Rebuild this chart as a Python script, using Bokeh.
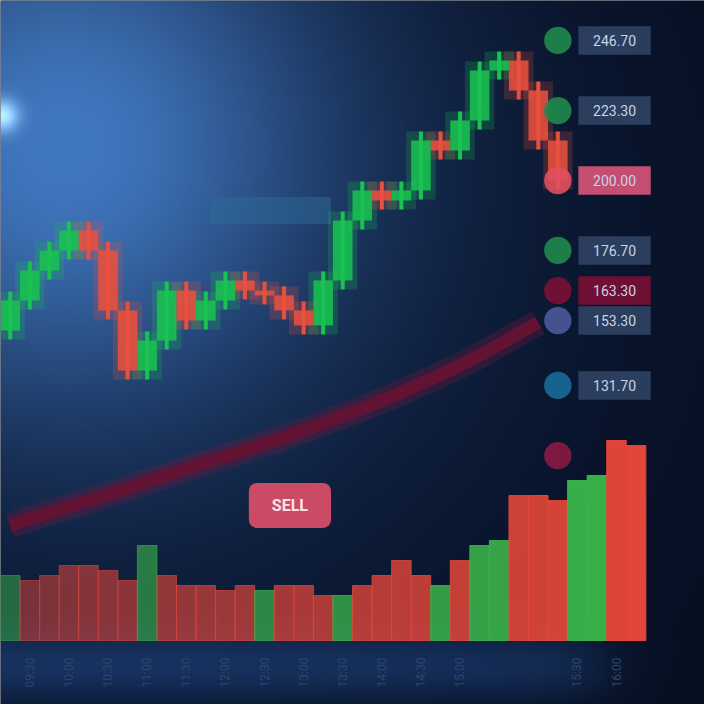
import numpy as np
from bokeh.plotting import figure
from bokeh.models import Range1d, ColumnDataSource
from bokeh.core.properties import value
from bokeh.embed import file_html
from bokeh.resources import INLINE

# ---------------- data ----------------
closes = [160.0, 170.0, 176.7, 183.3, 176.7, 156.7, 136.7, 146.7, 163.3, 153.3,
          160.0, 166.7, 163.3, 161.7, 156.7, 151.7, 166.7, 186.7, 196.7, 193.3,
          196.7, 213.3, 210.0, 220.0, 236.7, 240.0, 230.0, 213.3, 200.0]
first_open = 150.0
moving_avg = [85.0, 87.3, 89.3, 91.3, 93.3, 95.3, 97.3, 99.7, 101.7, 104.0,
              106.0, 108.0, 110.0, 112.3, 114.3, 116.7, 119.0, 121.7, 124.0, 126.7,
              129.3, 132.3, 135.3, 138.3, 141.7, 145.3, 149.0, 152.7]
volumes = [65, 60, 65, 75, 75, 70, 60, 95, 65, 55, 55, 50, 55, 50, 55, 55, 45,
           45, 55, 65, 80, 65, 55, 80, 95, 100, 145, 145, 140, 160, 165, 200, 195]
volume_up = [1, 0, 0, 0, 0, 0, 0, 1, 0, 0, 0, 0, 0, 1, 0, 0, 0,
             1, 0, 0, 0, 0, 1, 0, 1, 1, 0, 0, 0, 1, 1, 0, 0]
label_prices = [246.7, 223.3, 200.0, 176.7, 163.3, 153.3, 131.7, 108.3]
label_texts = ["246.70", "223.30", "200.00", "176.70", "163.30", "153.30", "131.70", ""]
label_dot_colors = ["#1f8a4c", "#1f8a4c", "#e0505e", "#1f8a4c", "#7a1035", "#4a5a9a", "#1a6a9a", "#8a1a45"]
label_box_colors = ["#34486a", "#34486a", "#d9557a", "#34486a", "#7a1035", "#34486a", "#34486a", "#050c1e"]
label_box_alpha = [0.8, 0.8, 0.9, 0.8, 0.9, 0.8, 0.8, 0.0]
level_price = 190.0
level_start, level_end = 10.2, 16.4
signal_index, signal_price, signal_text = 14.3, 91.7, "SELL"
time_idx = [1, 3, 5, 7, 9, 11, 13, 15, 17, 19, 21, 23, 29, 31]
time_labels = ["09:30", "10:00", "10:30", "11:00", "11:30", "12:00", "12:30",
               "13:00", "13:30", "14:00", "14:30", "15:00", "15:30", "16:00"]

# ---------------- figure ----------------
W = H = 704
X0, X1 = -0.5, 35.5
Y0, Y1 = 260 - 704 / 3, 260.0
p = figure(width=W, height=H, x_range=Range1d(X0, X1), y_range=Range1d(Y0, Y1),
           output_backend="svg", toolbar_location=None, min_border=0)
p.axis.visible = False
p.grid.visible = False
p.outline_line_color = None
p.background_fill_color = "#050c1e"
p.border_fill_color = "#050c1e"

# background glow image
N = 352
j = (np.arange(N) + 0.5) * (W / N)
i = (np.arange(N) + 0.5) * (H / N)
PX, PYb = np.meshgrid(j, i)
PY = H - PYb
base = np.array([4, 9, 24], float)
g1 = np.exp(-((PX - 60) ** 2 + (PY - 140) ** 2) / (2 * 190 ** 2))
g2 = np.exp(-((PX - 150) ** 2 + (PY - 250) ** 2) / (2 * 420 ** 2))
spot = np.exp(-((PX - 2) ** 2 + (PY - 115) ** 2) / (2 * 11 ** 2))
band = np.exp(-((PY - 665) / 35) ** 2) / (1 + np.exp((PX - 600) / 20))
rgb = (base[None, None, :]
       + g1[..., None] * np.array([52, 90, 132])
       + g2[..., None] * np.array([10, 22, 38])
       + band[..., None] * np.array([12, 26, 45])
       + spot[..., None] * np.array([120, 130, 110]))
rgb = np.clip(rgb, 0, 255).astype(np.uint8)
img = np.empty((N, N), dtype=np.uint32)
view = img.view(dtype=np.uint8).reshape((N, N, 4))
view[..., 0] = rgb[..., 0]
view[..., 1] = rgb[..., 1]
view[..., 2] = rgb[..., 2]
view[..., 3] = 255
p.image_rgba(image=[img], x=X0, y=Y0, dw=X1 - X0, dh=Y1 - Y0)

# level band
p.rect(x=[(level_start + level_end) / 2], y=[level_price], width=level_end - level_start,
       height=9, fill_color="#2d6a95", fill_alpha=0.5, line_color=None)

# moving average (glow + line)
ma_x = list(range(len(moving_avg)))
p.line(ma_x, moving_avg, line_color="#7a1840", line_width=26, line_alpha=0.3)
p.line(ma_x, moving_avg, line_color="#651333", line_width=13, line_alpha=0.95)

# candles
opens = [first_open] + closes[:-1]
cx = list(range(len(closes)))
up = [c >= o for o, c in zip(opens, closes)]
colors = ["#19c251" if u else "#e8503e" for u in up]
tops = [max(o, c) for o, c in zip(opens, closes)]
bots = [min(o, c) for o, c in zip(opens, closes)]
src = ColumnDataSource(dict(x=cx, top=tops, bottom=bots, hi=[t + 3 for t in tops],
                            lo=[b - 3 for b in bots], color=colors))
p.vbar(x="x", top="hi", bottom="lo", width=1.5, fill_color="color", fill_alpha=0.22,
       line_color=None, source=src)
p.segment(x0="x", y0="hi", x1="x", y1="lo", line_color="color", line_width=4, source=src)
p.vbar(x="x", top="top", bottom="bottom", width=1.0, fill_color="color",
       fill_alpha=0.88, line_color=None, source=src)

# volume
p.extra_y_ranges = {"vol": Range1d(-64, 640)}
vx = list(range(len(volumes)))
vcol = ["#3bb54a" if u else "#e2463a" for u in volume_up]
valpha = [0.5 + 0.5 * k / (len(volumes) - 1) for k in range(len(volumes))]
vsrc = ColumnDataSource(dict(x=vx, top=volumes, color=vcol, alpha=valpha))
p.vbar(x="x", top="top", bottom=0, width=1.0, fill_color="color", fill_alpha="alpha",
       line_color="color", line_alpha="alpha", line_width=1, y_range_name="vol", source=vsrc)

# signal label
p.rect(x=[signal_index], y=[signal_price], width=4.2, height=15, fill_color="#e0506a",
       fill_alpha=0.9, line_color=None, border_radius=8)
p.text(x=[signal_index], y=[signal_price], text=[signal_text], text_color="#ffe0e8",
       text_font=value("Roboto"), text_font_size="16px", text_font_style="bold",
       text_align="center", text_baseline="middle")

# right price labels
lx_dot = [28.0] * len(label_prices)
lx_box = [30.9] * len(label_prices)
p.rect(x=lx_box, y=label_prices, width=3.7, height=9.5, fill_color=label_box_colors,
       fill_alpha=label_box_alpha, line_color=None)
p.circle(x=lx_dot, y=label_prices, radius=0.7, fill_color=label_dot_colors,
         line_color=None, fill_alpha=0.9)
p.text(x=lx_box, y=label_prices, text=label_texts, text_color="#c8d4e6",
       text_font=value("Roboto"), text_font_size="14px", text_align="center",
       text_baseline="middle")

# time labels
p.text(x=time_idx, y=[36] * len(time_idx), text=time_labels, text_color="#2c466c",
       text_font=value("Roboto"), text_font_size="12px", text_align="center",
       text_baseline="middle", angle=np.pi / 2)

open("out.html", "w").write(file_html(p, INLINE))
